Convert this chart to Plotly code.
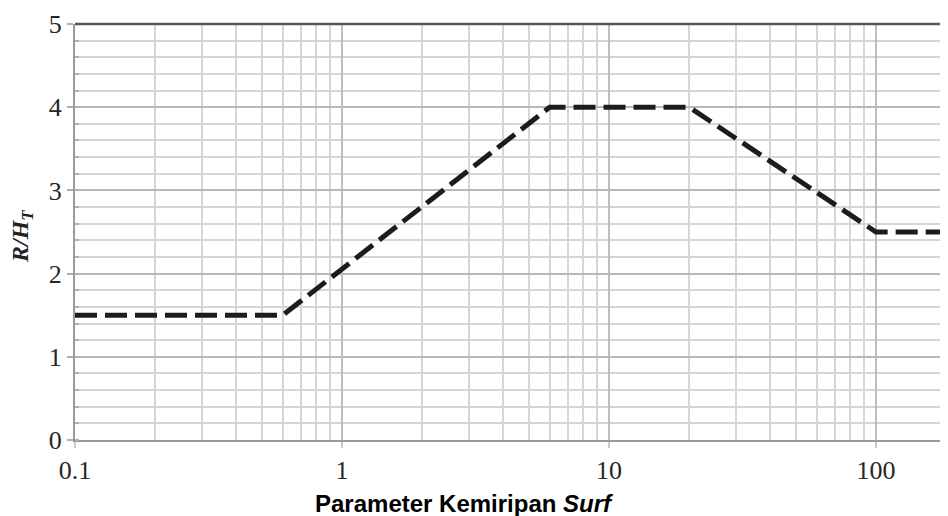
import plotly.graph_objects as go

# Data: piecewise curve of R/H_T vs surf similarity parameter
surf = [0.1, 0.6, 6, 20, 100, 200]
r_over_h = [1.5, 1.5, 4.0, 4.0, 2.5, 2.5]

x_major = [0.1, 1, 10, 100]
x_major_labels = ["0.1", "1", "10", "100"]
x_minor = [m * d for d in (0.1, 1, 10, 100) for m in range(2, 10)]
y_major = [0, 1, 2, 3, 4, 5]

# the page body adds an 8px offset; lay out in figure coordinates
OFF = 8
W, H = 948 - OFF, 516 - OFF
L, T, B = 75 - OFF, 24 - OFF, 440 - OFF
PW, PH = W - L, B - T

fig = go.Figure()
fig.add_trace(go.Scatter(
    x=surf, y=r_over_h, mode="lines",
    line=dict(color="#1c1c1c", width=5, dash="22px,8px"),
    showlegend=False, hoverinfo="skip"))

fig.update_layout(
    width=W, height=H,
    margin=dict(l=L, r=0, t=T, b=H - B, pad=0),
    plot_bgcolor="white", paper_bgcolor="white",
    font=dict(family="Liberation Serif", size=26, color="#333"),
)

fig.update_xaxes(
    type="log", range=[-1, 2.27],
    tickmode="array", tickvals=x_major, ticktext=x_major_labels,
    showgrid=True, gridcolor="#bdbdc2", gridwidth=1.5,
    ticks="outside", ticklen=6, tickcolor="#c8c8cc", tickwidth=1.5,
    tickfont=dict(family="Liberation Serif", size=26, color="#262626"),
    showline=True, linecolor="#9a9a9a", linewidth=2,
    minor=dict(tickmode="array", tickvals=x_minor, showgrid=True,
               gridcolor="#d6d6da", gridwidth=1.5, ticks=""),
    zeroline=False,
)
fig.update_yaxes(
    range=[0, 5],
    tickmode="array", tickvals=y_major,
    showgrid=True, gridcolor="#b8b8bc", gridwidth=1.5,
    ticks="outside", ticklen=6, tickcolor="#b0b0b4", tickwidth=1.5,
    tickfont=dict(family="Liberation Serif", size=26, color="#262626"),
    showline=True, linecolor="#9a9a9a", linewidth=2,
    minor=dict(dtick=0.2, showgrid=True, gridcolor="#d6d6da", gridwidth=1.5,
               ticks="inside", ticklen=4, tickcolor="#b0b0b4"),
    zeroline=False, mirror=False,
)

# top border line
fig.add_shape(type="line", xref="paper", yref="paper", x0=0, x1=1, y0=1, y1=1,
              line=dict(color="#555", width=2.5))

fig.add_annotation(
    text="<b>Parameter Kemiripan <i>Surf</i></b>",
    xref="paper", yref="paper", x=(464 - 75) / PW, y=-(503 - 440) / PH,
    showarrow=False, xanchor="center", yanchor="middle",
    font=dict(family="Liberation Sans", size=24, color="black"))

fig.add_annotation(
    text="<b><i>R/H</i></b><sub><b><i>T</i></b></sub>",
    xref="paper", yref="paper", x=-(75 - 22) / PW, y=(440 - 237) / PH,
    showarrow=False, xanchor="center", yanchor="middle", textangle=-90,
    font=dict(family="Liberation Serif", size=24, color="#222"))

fig.write_html("out.html")
